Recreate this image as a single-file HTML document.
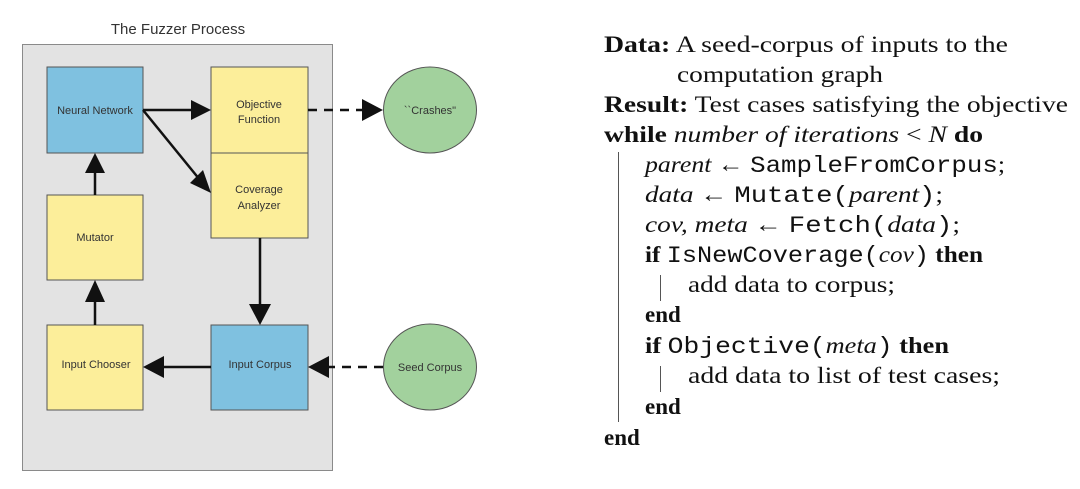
<!DOCTYPE html>
<html><head><meta charset="utf-8"><style>
html,body{margin:0;padding:0;background:#fff;}
svg{display:block}
</style></head><body>
<svg width="1080" height="489" viewBox="0 0 1080 489" xmlns="http://www.w3.org/2000/svg">
<text x="178" y="34" font-family="Liberation Sans, sans-serif" font-size="15" text-anchor="middle" fill="#333">The Fuzzer Process</text>
<rect x="22.5" y="44.5" width="310" height="426" fill="#e3e3e3" stroke="#8a8a8a" stroke-width="1"/>
<g stroke="#555" stroke-width="1">
<rect x="47" y="67" width="96" height="86" fill="#7fc1e0"/>
<rect x="211" y="67" width="97" height="86" fill="#fcee9a"/>
<rect x="211" y="153" width="97" height="85" fill="#fcee9a"/>
<rect x="47" y="195" width="96" height="85" fill="#fcee9a"/>
<rect x="47" y="325" width="96" height="85" fill="#fcee9a"/>
<rect x="211" y="325" width="97" height="85" fill="#7fc1e0"/>
<ellipse cx="430" cy="110" rx="46.5" ry="43" fill="#a2d19d"/>
<ellipse cx="430" cy="367" rx="46.5" ry="43" fill="#a2d19d"/>
</g>
<g font-family="Liberation Sans, sans-serif" font-size="11" text-anchor="middle" fill="#333">
<text x="95" y="114">Neural Network</text>
<text x="259" y="108">Objective</text>
<text x="259" y="123">Function</text>
<text x="259" y="193">Coverage</text>
<text x="259" y="209">Analyzer</text>
<text x="95" y="241">Mutator</text>
<text x="96" y="368">Input Chooser</text>
<text x="260" y="368">Input Corpus</text>
<text x="430" y="114">``Crashes"</text>
<text x="430" y="371">Seed Corpus</text>
</g>
<g stroke="#111" stroke-width="2.5" fill="none">
<line x1="143" y1="110" x2="192" y2="110"/>
<line x1="143" y1="110" x2="200" y2="180"/>
<line x1="95" y1="195" x2="95" y2="172"/>
<line x1="95" y1="325" x2="95" y2="302"/>
<line x1="260" y1="238" x2="260" y2="305"/>
<line x1="211" y1="367" x2="163" y2="367"/>
<line x1="308" y1="110" x2="365" y2="110" stroke-dasharray="9,7"/>
<line x1="383" y1="367" x2="328" y2="367" stroke-dasharray="9,7"/>
</g>
<g fill="#111">
<polygon points="211,110 191,100 191,120"/>
<polygon points="211,193 190,183 203,170"/>
<polygon points="95,153 85,173 105,173"/>
<polygon points="95,280 85,302 105,302"/>
<polygon points="260,325 249,304 271,304"/>
<polygon points="143,367 164,356 164,378"/>
<polygon points="383,110 362,99 362,121"/>
<polygon points="308,367 329,356 329,378"/>
</g>
<g font-family="Liberation Serif, serif" font-size="23" fill="#111">
<text x="604" y="52" textLength="404" lengthAdjust="spacingAndGlyphs"><tspan font-weight="bold">Data:</tspan> A seed-corpus of inputs to the</text>
<text x="677" y="82" textLength="206" lengthAdjust="spacingAndGlyphs">computation graph</text>
<text x="604" y="112" textLength="464" lengthAdjust="spacingAndGlyphs"><tspan font-weight="bold">Result:</tspan> Test cases satisfying the objective</text>
<text x="604" y="142" textLength="379" lengthAdjust="spacingAndGlyphs"><tspan font-weight="bold">while</tspan> <tspan font-style="italic">number of iterations</tspan> &lt; <tspan font-style="italic">N</tspan> <tspan font-weight="bold">do</tspan></text>
<text x="645" y="172" textLength="360" lengthAdjust="spacingAndGlyphs"><tspan font-style="italic">parent</tspan> ← <tspan font-family="Liberation Mono, monospace">SampleFromCorpus</tspan>;</text>
<text x="645" y="202" textLength="298" lengthAdjust="spacingAndGlyphs"><tspan font-style="italic">data</tspan> ← <tspan font-family="Liberation Mono, monospace">Mutate(</tspan><tspan font-style="italic">parent</tspan><tspan font-family="Liberation Mono, monospace">)</tspan>;</text>
<text x="645" y="232" textLength="315" lengthAdjust="spacingAndGlyphs"><tspan font-style="italic">cov, meta</tspan> ← <tspan font-family="Liberation Mono, monospace">Fetch(</tspan><tspan font-style="italic">data</tspan><tspan font-family="Liberation Mono, monospace">)</tspan>;</text>
<text x="645" y="262" textLength="338" lengthAdjust="spacingAndGlyphs"><tspan font-weight="bold">if</tspan> <tspan font-family="Liberation Mono, monospace">IsNewCoverage(</tspan><tspan font-style="italic">cov</tspan><tspan font-family="Liberation Mono, monospace">)</tspan> <tspan font-weight="bold">then</tspan></text>
<text x="688" y="292" textLength="207" lengthAdjust="spacingAndGlyphs">add data to corpus;</text>
<text x="645" y="322" font-weight="bold">end</text>
<text x="645" y="353" textLength="304" lengthAdjust="spacingAndGlyphs"><tspan font-weight="bold">if</tspan> <tspan font-family="Liberation Mono, monospace">Objective(</tspan><tspan font-style="italic">meta</tspan><tspan font-family="Liberation Mono, monospace">)</tspan> <tspan font-weight="bold">then</tspan></text>
<text x="688" y="383" textLength="312" lengthAdjust="spacingAndGlyphs">add data to list of test cases;</text>
<text x="645" y="414" font-weight="bold">end</text>
<text x="604" y="445" font-weight="bold">end</text>
</g>
<g stroke="#555" stroke-width="1">
<line x1="618.5" y1="152" x2="618.5" y2="422"/>
<line x1="660.5" y1="275" x2="660.5" y2="301"/>
<line x1="660.5" y1="366" x2="660.5" y2="392"/>
</g>
</svg>
</body></html>
